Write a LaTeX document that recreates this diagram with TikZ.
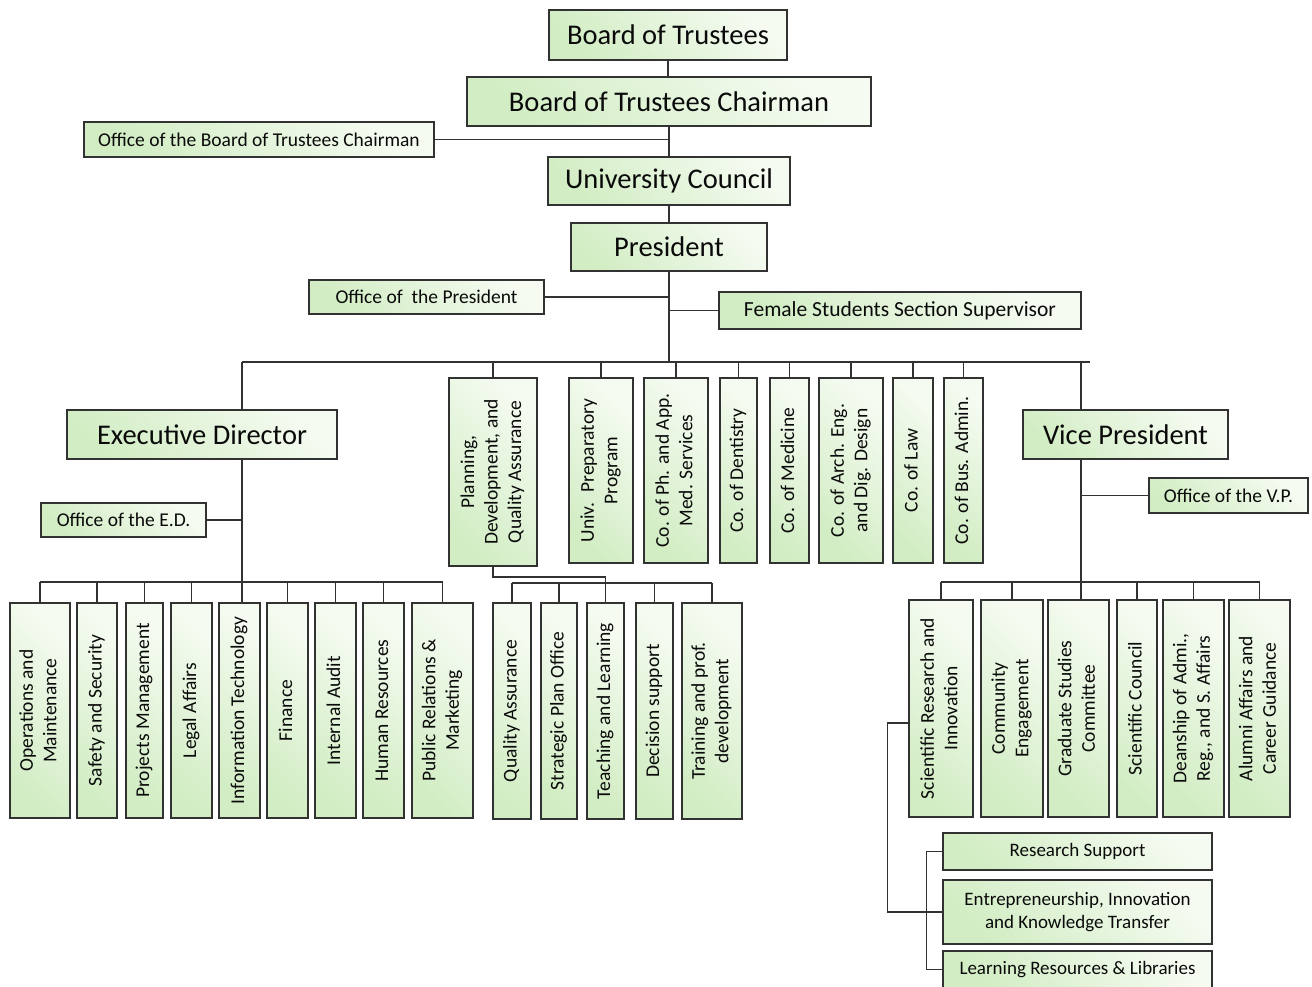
\documentclass[tikz,border=0pt]{standalone}
\usepackage{fontspec}
\setmainfont{Carlito}
\usetikzlibrary{calc}
\definecolor{gA}{RGB}{210,237,196}
\definecolor{gB}{RGB}{245,251,241}
\definecolor{ln}{RGB}{50,50,50}
\definecolor{tx}{RGB}{10,10,10}
\newcommand\bigf{\fontsize{28.5}{32}\selectfont}
\newcommand\smf{\fontsize{19.5}{23.5}\selectfont}
\newcommand\vt[1]{\rotatebox{90}{\smf\begin{tabular}{@{}c@{}}#1\end{tabular}}}
\tikzset{
  box/.style={draw=ln, line width=1.5pt, shading=axis, top color=gB, bottom color=gA,
    shading angle=-45, inner sep=0pt, align=center, text=tx},
  conn/.style={draw=ln, line width=1.5pt},
}
\begin{document}
\begin{tikzpicture}[x=1pt,y=-1pt]
\useasboundingbox (0,0) rectangle (1312,986);
% ---- top chain ----
\node[box, font=\bigf, minimum width=238, minimum height=50] (bot) at (668,35) {Board of Trustees};
\node[box, font=\bigf, minimum width=404, minimum height=49] (botc) at (669,101.5) {Board of Trustees Chairman};
\node[box, font=\smf, minimum width=350, minimum height=35] (obotc) at (259,139.5) {Office of the Board of Trustees Chairman};
\node[box, font=\bigf, minimum width=242, minimum height=48] (uc) at (669,181) {University Council};
\node[box, font=\bigf, minimum width=196, minimum height=48] (pres) at (669,247) {President};
\node[box, font=\smf, minimum width=235, minimum height=34] (opres) at (426.5,297) {Office of \ the President};
\node[box, font=\fontsize{21.5}{25}\selectfont, minimum width=362, minimum height=37] (fss) at (900,310.5) {Female Students Section Supervisor};
\node[box, font=\bigf, minimum width=270, minimum height=49] (ed) at (202,434.5) {Executive Director};
\node[box, font=\bigf, minimum width=205, minimum height=49] (vp) at (1125.5,434.5) {Vice President};
\node[box, font=\smf, minimum width=165, minimum height=34] (oed) at (123.5,520) {Office of the E.D.};
\node[box, font=\smf, minimum width=159, minimum height=35] (ovp) at (1228.5,495.5) {Office of the V.P.};
% ---- second level vertical boxes ----
\node[box, minimum width=88, minimum height=188] (plan) at (493,472) {\vt{Planning,\\Development, and\\Quality Assurance}};
\node[box, minimum width=64, minimum height=185] (uprep) at (601,470.5) {\vt{Univ. \ Preparatory\\Program}};
\node[box, minimum width=64, minimum height=185] (coph) at (676,470.5) {\vt{Co. of Ph. and App.\\Med. Services}};
\node[box, minimum width=37, minimum height=185] (codent) at (738.5,470.5) {\vt{Co. of Dentistry}};
\node[box, minimum width=39, minimum height=185] (comed) at (789.5,470.5) {\vt{Co. of Medicine}};
\node[box, minimum width=64, minimum height=185] (coarch) at (851,470.5) {\vt{Co. of Arch. Eng.\\and Dig. Design}};
\node[box, minimum width=40, minimum height=185] (colaw) at (913,470.5) {\vt{Co. of Law}};
\node[box, minimum width=39, minimum height=185] (cobus) at (963.5,470.5) {\vt{Co. of Bus. Admin.}};
% ---- Executive Director units ----
\node[box, minimum width=60, minimum height=215] (ops) at (40,710.5) {\vt{Operations and\\Maintenance}};
\node[box, minimum width=40, minimum height=215] (safe) at (97,710.5) {\vt{Safety and Security}};
\node[box, minimum width=37, minimum height=215] (proj) at (144.5,710.5) {\vt{Projects Management}};
\node[box, minimum width=41, minimum height=215] (legal) at (191.5,710.5) {\vt{Legal Affairs}};
\node[box, minimum width=41, minimum height=215] (it) at (239.5,710.5) {\vt{Information Technology}};
\node[box, minimum width=41, minimum height=215] (fin) at (287.5,710.5) {\vt{Finance}};
\node[box, minimum width=41, minimum height=215] (audit) at (335.5,710.5) {\vt{Internal Audit}};
\node[box, minimum width=41, minimum height=215] (hr) at (383.5,710.5) {\vt{Human Resources}};
\node[box, minimum width=61, minimum height=215] (pr) at (442.5,710.5) {\vt{Public Relations \&\\Marketing}};
% ---- Planning units ----
\node[box, minimum width=38, minimum height=216] (qa) at (512,711) {\vt{Quality Assurance}};
\node[box, minimum width=36, minimum height=216] (spo) at (559,711) {\vt{Strategic Plan Office}};
\node[box, minimum width=37, minimum height=216] (tl) at (605.5,711) {\vt{Teaching and Learning}};
\node[box, minimum width=37, minimum height=216] (ds) at (654.5,711) {\vt{Decision support}};
\node[box, minimum width=60, minimum height=216] (tpd) at (712,711) {\vt{Training and prof.\\development}};
% ---- Vice President units ----
\node[box, minimum width=64, minimum height=217] (sri) at (941,708.5) {\vt{Scientific Research and\\Innovation}};
\node[box, minimum width=62, minimum height=217] (ce) at (1012,708.5) {\vt{Community\\Engagement}};
\node[box, minimum width=61, minimum height=217] (gsc) at (1078.5,708.5) {\vt{Graduate Studies\\Committee}};
\node[box, minimum width=40, minimum height=217] (sc) at (1137,708.5) {\vt{Scientific Council}};
\node[box, minimum width=61, minimum height=217] (da) at (1193.5,708.5) {\vt{Deanship of Admi.,\\Reg., and S. Affairs}};
\node[box, minimum width=61, minimum height=217] (aa) at (1259.5,708.5) {\vt{Alumni Affairs and\\Career Guidance}};
% ---- research units ----
\node[box, font=\fontsize{19}{23.5}\selectfont, minimum width=269, minimum height=37] (rs) at (1077.5,851.5) {Research Support};
\node[box, font=\fontsize{19}{23.5}\selectfont, minimum width=269, minimum height=64] (ent) at (1077.5,912) {Entrepreneurship, Innovation\\and Knowledge Transfer};
\node[box, font=\fontsize{19}{23.5}\selectfont, minimum width=269, minimum height=37] (lr) at (1077.5,969.5) {Learning Resources \& Libraries};
% ---- coordinates ----
\coordinate (busL) at (242,362);
\coordinate (busR) at (1090,362);
\coordinate (vpx) at (1081,362);
\coordinate (edbus) at (242,582);
\coordinate (pbus) at (512,583);
\coordinate (vpbus) at (1081,582);
% ---- connectors ----
\draw[conn] (bot.south) -- (bot.south |- botc.north);
\draw[conn] (botc.south) -- (uc.north);
\draw[conn] (uc.south) -- (pres.north);
\draw[conn] (obotc.east) -- (obotc.east -| botc.south);
\draw[conn] (opres.east) -- (opres.east -| pres.south);
\draw[conn] (fss.west) -- (fss.west -| pres.south);
\draw[conn] (pres.south) -- (pres.south |- busL);
\draw[conn] (busL) -- (busR);
\foreach \n in {plan,uprep,coph,codent,comed,coarch,colaw,cobus}
  \draw[conn] (\n.north) -- (\n.north |- busL);
% Executive Director branch
\draw[conn] (busL) -- (busL |- ed.north);
\draw[conn] (ed.south -| busL) -- (busL |- it.north);
\draw[conn] (oed.east) -- (oed.east -| busL);
\draw[conn] (ops.north |- edbus) -- (pr.north |- edbus);
\foreach \n in {ops,safe,proj,legal,fin,audit,hr,pr}
  \draw[conn] (\n.north) -- (\n.north |- edbus);
% Planning branch
\draw[conn] (plan.south) -- ++(0,10) -| (tl.north);
\draw[conn] (qa.north |- pbus) -- (tpd.north |- pbus);
\foreach \n in {qa,spo,ds,tpd}
  \draw[conn] (\n.north) -- (\n.north |- pbus);
% Vice President branch
\draw[conn] (vpx) -- (vpx |- vp.north);
\draw[conn] (vp.south -| vpx) -- (vpx |- gsc.north);
\draw[conn] (ovp.west) -- (ovp.west -| vpx);
\draw[conn] (sri.north |- vpbus) -- (aa.north |- vpbus);
\foreach \n in {sri,ce,sc,da,aa}
  \draw[conn] (\n.north) -- (\n.north |- vpbus);
% Research sub-units
\draw[conn] ([yshift=-14.5pt]sri.west) -- ++(-21,0) |- (ent.west);
\draw[conn] (rs.west) -- ++(-16,0) |- (lr.west);
\end{tikzpicture}
\end{document}
